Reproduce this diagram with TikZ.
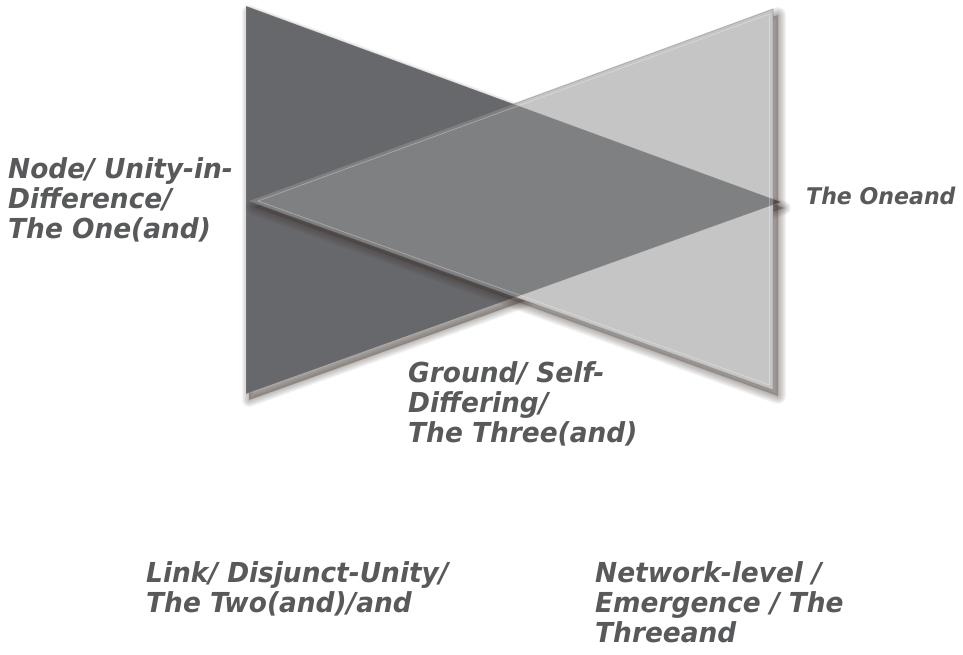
\documentclass[tikz,border=0pt]{standalone}
\usepackage{fontspec}
\setmainfont[FakeStretch=0.96]{DejaVu Sans}

\definecolor{darktri}{RGB}{103,104,108}
\definecolor{lighttri}{RGB}{149,149,149}
\definecolor{labelgray}{RGB}{88,89,91}
\definecolor{shadowcol}{RGB}{62,50,44}

\begin{document}
\begin{tikzpicture}[x=1pt,y=-1pt,
  lbl/.style={anchor=north west, inner sep=0pt, align=left, text=labelgray,
    font=\fontsize{27.5}{30}\selectfont\bfseries\itshape},
  softedge/.style={shadowcol, draw opacity=0.05, line join=round},
]
\useasboundingbox (0,0) rectangle (963,654);
\fill[white] (0,0) rectangle (963,654);

% corners of the dark (left) and light (right) triangles
\coordinate (DA) at (246,6);
\coordinate (DB) at (246,394);
\coordinate (DC) at (781,202);
\coordinate (LA) at (773,9);
\coordinate (LB) at (773,390);
\coordinate (LC) at (249,201);
% inner bevel of the light triangle
\coordinate (LAi) at (769.5,14);
\coordinate (LBi) at (769.5,385);
\coordinate (LCi) at (258,201);

% soft shadow of the dark triangle, kept outside the light one
\begin{scope}[even odd rule]
  \clip (-10,-10) rectangle (973,664) (LA) -- (LB) -- (LC) -- cycle;
  \fill[shadowcol, fill opacity=0.4]
    ([shift={(3,6)}]DA) -- ([shift={(3,6)}]DB) -- ([shift={(3,6)}]DC) -- cycle;
  \foreach \w in {2,4,...,14}
    \draw[softedge, line width=\w pt]
      ([shift={(3,6)}]DA) -- ([shift={(3,6)}]DB) -- ([shift={(3,6)}]DC) -- cycle;
\end{scope}

% dark triangle with a faint light rim
\fill[darktri] (DA) -- (DB) -- (DC) -- cycle;
\draw[white, draw opacity=0.2, line width=0.7pt, line join=round]
  (DA) -- (DB) -- (DC) -- cycle;

% soft shadow of the light triangle
\begin{scope}[even odd rule]
  \clip (-10,-10) rectangle (973,664) (LA) -- (LB) -- (LC) -- cycle;
  \fill[shadowcol, fill opacity=0.32]
    ([shift={(5,6)}]LA) -- ([shift={(5,6)}]LB) -- ([shift={(5,6)}]LC) -- cycle;
  \foreach \w in {2,4,...,16}
    \draw[softedge, line width=\w pt]
      ([shift={(5,6)}]LA) -- ([shift={(5,6)}]LB) -- ([shift={(5,6)}]LC) -- cycle;
\end{scope}

% light translucent triangle with bevelled edge
\fill[lighttri, fill opacity=0.54] (LA) -- (LB) -- (LC) -- cycle;
\draw[black!55, draw opacity=0.35, line width=1pt, line join=round]
  (LA) -- (LB) -- (LC) -- cycle;
\draw[white, draw opacity=0.3, line width=0.8pt, line join=round]
  (LAi) -- (LBi) -- (LCi) -- cycle;

% labels
\node[lbl] (nodelbl) at (8,157) {Node/ Unity-in-\\Difference/\\The One(and)};
\node[lbl] (groundlbl) at (408,361) {Ground/ Self-\\Differing/\\The Three(and)};
\node[lbl] (linklbl) at (146,561) {Link/ Disjunct-Unity/\\The Two(and)/and};
\node[lbl] (netlbl) at (595,561) {Network-level /\\Emergence / The\\Threeand};
\node[lbl, anchor=base west, font=\fontsize{23}{26}\selectfont\bfseries\itshape]
  (onelbl) at (806,204) {The Oneand};
\end{tikzpicture}
\end{document}
